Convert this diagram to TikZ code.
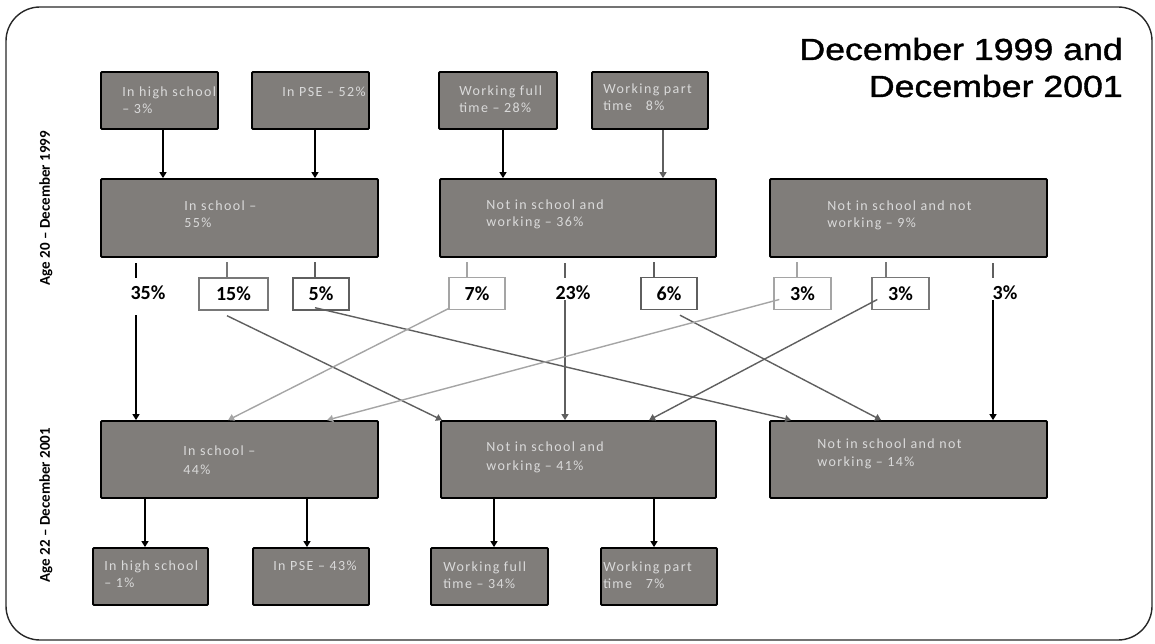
\documentclass[tikz,border=0pt]{standalone}
\usepackage{fontspec}
\usepackage{graphicx}
\usetikzlibrary{arrows.meta,calc}
\newfontfamily\boxfnt[LetterSpace=10]{Carlito}
\newfontfamily\pctfnt{Carlito}
\newfontfamily\ttlfnt[FakeBold=1.2]{Liberation Sans}
\definecolor{boxfill}{RGB}{128,125,122}
\definecolor{boxtxt}{RGB}{218,218,218}
\definecolor{darkln}{RGB}{95,95,95}
\definecolor{midln}{RGB}{120,120,120}
\definecolor{lightln}{RGB}{165,165,165}
\definecolor{framec}{RGB}{40,40,40}
\tikzset{
  bigbox/.style={draw=black, line width=1.8pt, fill=boxfill, rounded corners=1pt, inner sep=0pt},
  btxt/.style={text=boxtxt, font=\boxfnt\fontsize{14}{17}\selectfont, align=left, inner sep=0pt, anchor=north west},
  pbox/.style={draw=#1, line width=1.4pt, fill=white, minimum height=32pt, inner sep=0pt,
     font=\pctfnt\bfseries\fontsize{20}{20}\selectfont},
  plab/.style={inner sep=0pt, font=\pctfnt\bfseries\fontsize{20}{20}\selectfont},
  arr/.style={-{Triangle[width=7pt,length=6pt]}, line width=1.4pt, draw=#1},
  arr/.default=black,
  tick/.style={line width=1.4pt, draw=#1},
  tick/.default=black,
  agelab/.style={rotate=90, inner sep=0pt, font=\pctfnt\bfseries\fontsize{15}{15}\selectfont},
  ttl/.style={anchor=base east, inner sep=0pt, font=\ttlfnt\fontsize{30.5}{30.5}\selectfont}
}
\begin{document}
\begin{tikzpicture}[x=1pt,y=-1pt]
\useasboundingbox (0,0) rectangle (1155,644);
% outer frame
\draw[framec, line width=1.4pt, rounded corners=34pt] (6,7) rectangle (1152,640);

% title
\node[ttl] (ttl1) at (1123,60) {\scalebox{1.17}[1]{December 1999 and}};
\node[ttl] (ttl2) at (1123,97) {\scalebox{1.17}[1]{December 2001}};

% side labels
\node[agelab] (age20) at (46,208) {Age 20 – December 1999};
\node[agelab] (age22) at (46,505) {Age 22 – December 2001};

% row 1
\node[bigbox, minimum width=117pt, minimum height=57pt] (t1) at (159.5,100.5) {};
\node[bigbox, minimum width=117pt, minimum height=57pt] (t2) at (310.5,100.5) {};
\node[bigbox, minimum width=118pt, minimum height=57pt] (t3) at (498,100.5) {};
\node[bigbox, minimum width=116pt, minimum height=57pt] (t4) at (650,100.5) {};
\node[btxt] (t1t) at ([shift={(22,15.5)}]t1.north west) {In high school\\– 3\%};
\node[btxt] (t2t) at ([shift={(31,15.5)}]t2.north west) {In PSE – 52\%};
\node[btxt] (t3t) at ([shift={(21,14.5)}]t3.north west) {Working full\\time – 28\%};
\node[btxt] (t4t) at ([shift={(12,12.5)}]t4.north west) {Working part\\time~~~8\%};

% row 2
\node[bigbox, minimum width=277pt, minimum height=78pt] (m1) at (239.5,218) {};
\node[bigbox, minimum width=276pt, minimum height=78pt] (m2) at (578,218) {};
\node[bigbox, minimum width=277pt, minimum height=78pt] (m3) at (908.5,218) {};
\node[btxt] (m1t) at ([shift={(84,22.5)}]m1.north west) {In school –\\55\%};
\node[btxt] (m2t) at ([shift={(47,21.5)}]m2.north west) {Not in school and\\working – 36\%};
\node[btxt] (m3t) at ([shift={(58,22.5)}]m3.north west) {Not in school and not\\working – 9\%};

% row 3
\node[bigbox, minimum width=277pt, minimum height=77pt] (n1) at (239.5,459.5) {};
\node[bigbox, minimum width=275pt, minimum height=77pt] (n2) at (578.5,459.5) {};
\node[bigbox, minimum width=277pt, minimum height=77pt] (n3) at (908.5,459.5) {};
\node[btxt, font=\boxfnt\fontsize{14}{19}\selectfont] (n1t) at ([shift={(83,25.5)}]n1.north west) {In school –\\44\%};
\node[btxt, font=\boxfnt\fontsize{14}{19}\selectfont] (n2t) at ([shift={(46,21.5)}]n2.north west) {Not in school and\\working – 41\%};
\node[btxt, font=\boxfnt\fontsize{14}{18}\selectfont] (n3t) at ([shift={(48,18.5)}]n3.north west) {Not in school and not\\working – 14\%};

% row 4
\node[bigbox, minimum width=115pt, minimum height=57pt] (b1) at (150.5,576.5) {};
\node[bigbox, minimum width=116pt, minimum height=57pt] (b2) at (311,576.5) {};
\node[bigbox, minimum width=117pt, minimum height=57pt] (b3) at (489.5,576.5) {};
\node[bigbox, minimum width=116pt, minimum height=57pt] (b4) at (659,576.5) {};
\node[btxt] (b1t) at ([shift={(12,13.5)}]b1.north west) {In high school\\– 1\%};
\node[btxt] (b2t) at ([shift={(21,13.5)}]b2.north west) {In PSE – 43\%};
\node[btxt] (b3t) at ([shift={(13,14.5)}]b3.north west) {Working full\\time – 34\%};
\node[btxt] (b4t) at ([shift={(3,14.5)}]b4.north west) {Working part\\time~~~7\%};

% arrows row1 -> row2
\draw[arr] ([xshift=3.5pt]t1.south) -- ([xshift=3.5pt]t1.south |- m1.north);
\draw[arr] ([xshift=4.5pt]t2.south) -- ([xshift=4.5pt]t2.south |- m1.north);
\draw[arr] ([xshift=5pt]t3.south) -- ([xshift=5pt]t3.south |- m2.north);
\draw[arr=darkln] ([xshift=13pt]t4.south) -- ([xshift=13pt]t4.south |- m2.north);

% arrows row3 -> row4
\draw[arr] ([xshift=-5.5pt]b1.north |- n1.south) -- ([xshift=-5.5pt]b1.north);
\draw[arr] ([xshift=-4pt]b2.north |- n1.south) -- ([xshift=-4pt]b2.north);
\draw[arr] ([xshift=4.5pt]b3.north |- n2.south) -- ([xshift=4.5pt]b3.north);
\draw[arr] ([xshift=-5pt]b4.north |- n2.south) -- ([xshift=-5pt]b4.north);

% percentage labels
\node[plab] (p35) at (148,293) {35\%};
\node[pbox=midln, minimum width=69pt] (p15) at (233.5,294) {15\%};
\node[pbox=darkln, minimum width=56pt] (p5) at (321,294) {5\%};
\node[pbox=lightln, minimum width=56pt] (p7) at (477,293.5) {7\%};
\node[plab] (p23) at (573,293) {23\%};
\node[pbox=darkln, minimum width=56pt] (p6) at (669,293.5) {6\%};
\node[pbox=lightln, minimum width=57pt] (p3a) at (802.5,293.5) {3\%};
\node[pbox=midln, minimum width=57pt] (p3b) at (900.5,293.5) {3\%};
\node[plab] (p3c) at (1005,293) {3\%};

% ticks
\draw[tick] ([shift={(-12,-30)}]p35.center) -- ++(0,15);
\draw[tick=midln] ([xshift=-6.5pt]p15.north) -- ++(0,-15);
\draw[tick=darkln] ([xshift=-6pt]p5.north) -- ++(0,-15);
\draw[tick=lightln] ([xshift=-10pt]p7.north) -- ++(0,-15);
\draw[tick=darkln] ([shift={(-8,-30)}]p23.center) -- ++(0,15);
\draw[tick=darkln] ([xshift=-15pt]p6.north) -- ++(0,-15);
\draw[tick=lightln] ([xshift=-5.5pt]p3a.north) -- ++(0,-15);
\draw[tick=midln] ([xshift=-14.5pt]p3b.north) -- ++(0,-15);
\draw[tick=darkln] ([shift={(-12,-30)}]p3c.center) -- ++(0,15);

% flows to row 3
\draw[arr] ([shift={(-12,22)}]p35.center) -- ([xshift=-12pt]p35.center |- n1.north);
\draw[arr=darkln] ([shift={(-8,7)}]p23.center) -- ([xshift=-8pt]p23.center |- n2.north);
\draw[arr] ([shift={(-12,7)}]p3c.center) -- ([xshift=-12pt]p3c.center |- n3.north);
\draw[arr=darkln] ([shift={(-6.5,5)}]p15.south) -- ([xshift=2pt]n2.north west);
\draw[arr=darkln] ([shift={(-6,-3)}]p5.south) -- ([xshift=22pt]n3.north west);
\draw[arr=lightln] ([shift={(1,-2)}]p7.south west) -- ([xshift=128pt]n1.north west);
\draw[arr=darkln] ([shift={(11,5)}]p6.south) -- ([xshift=112pt]n3.north west);
\draw[arr=lightln] ([shift={(6,6)}]p3a.west) -- ([xshift=227pt]n1.north west);
\draw[arr=darkln] ([shift={(6,6)}]p3b.west) -- ([xshift=209pt]n2.north west);
\end{tikzpicture}
\end{document}
